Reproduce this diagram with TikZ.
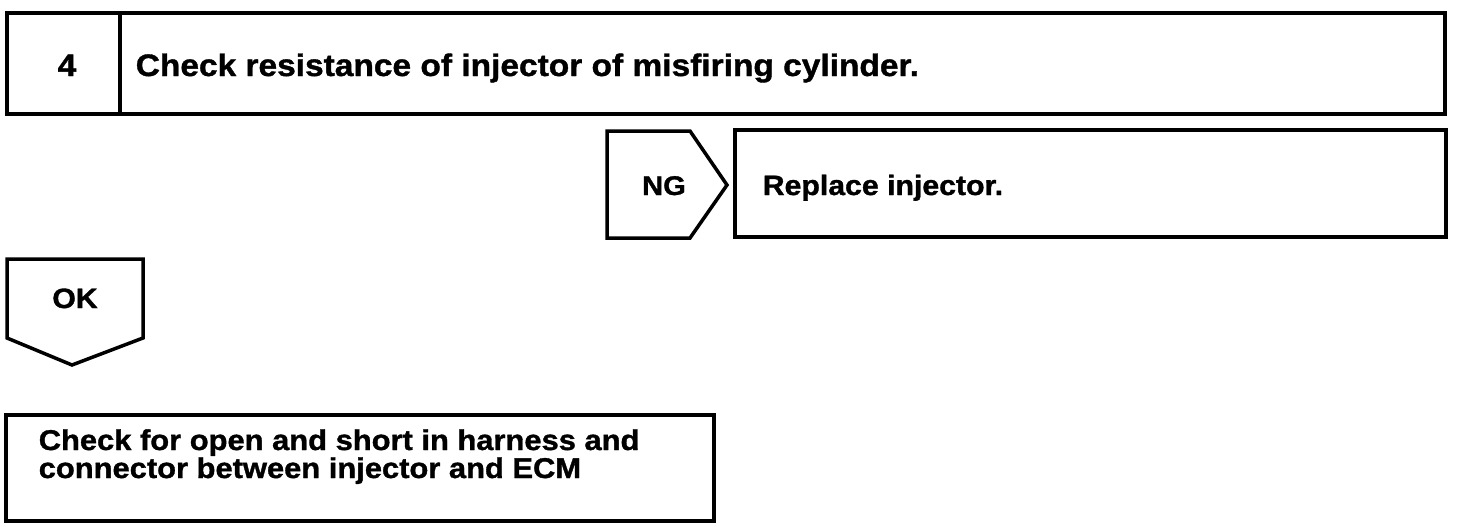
\documentclass[tikz,border=0pt]{standalone}
\usepackage{fontspec}
\setmainfont{Liberation Sans}[FakeStretch=1.08, BoldFeatures={FakeBold=1.2}]
\usetikzlibrary{calc}

\begin{document}
\begin{tikzpicture}[x=1pt,y=-1pt,line width=3.5pt,line join=miter,
	lbl/.style={font=\bfseries\fontsize{#1}{28}\selectfont, inner sep=0pt, anchor=base west}]
	\useasboundingbox (0,0) rectangle (1472,530);

	% step 4
	\draw (7,13) rectangle (1445,114);
	\draw (120,13) -- (120,114);
	\node[lbl=31, anchor=base] (num) at (67,76) {4};
	\node[lbl=31] (chk) at (134,76) {Check resistance of injector of misfiring cylinder.};

	% NG branch
	\draw (607,131) -- (690,131) -- (727,185) -- (690,238) -- (607,238) -- cycle;
	\node[lbl=27, anchor=base] (ng) at (664,195) {NG};
	\draw (735,130) rectangle (1446,237);
	\node[lbl=28] (repl) at (761,195) {Replace injector.};

	% OK branch
	\draw (7,259) -- (143,259) -- (143,338) -- (72,365) -- (7,338) -- cycle;
	\node[lbl=28, anchor=base] (ok) at (75,308) {OK};
	\draw (6,415) rectangle (714,521);
	\node[lbl=28.6] (harn) at (37,450) {Check for open and short in harness and};
	\node[lbl=28.6] (harn2) at (37,478) {connector between injector and ECM};
\end{tikzpicture}
\end{document}
